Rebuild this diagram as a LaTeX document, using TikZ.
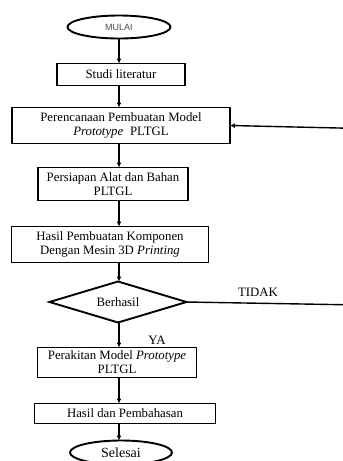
\documentclass[tikz,border=0pt]{standalone}
\usepackage{fontspec}
\setmainfont{Liberation Serif}
\newfontfamily\mulaifont{Liberation Sans}
\usetikzlibrary{arrows.meta,positioning,shapes.geometric}

\begin{document}
\begin{tikzpicture}[x=1pt, y=-1pt, font=\fontsize{12.8}{14}\selectfont, line width=1.9pt]
\tikzstyle{kotak}=[draw, rectangle, align=center, inner sep=1pt, outer sep=0pt]
\tikzstyle{oval}=[draw, ellipse, inner sep=0pt, outer sep=0pt]
\tikzstyle{arr}=[-{Latex[length=5pt,width=5pt]}]
\useasboundingbox (0,0) rectangle (343,461);
\coordinate (spine) at (119,0);
\coordinate (ujung) at (360,0);
\node[oval, minimum width=103pt, minimum height=23pt, font=\mulaifont\fontsize{9}{10}\selectfont, text=black!70] (mulai) at (119,27) {MULAI};
\node[kotak, minimum width=128pt, minimum height=22pt, below=25pt of mulai, xshift=2pt] (studi) {Studi literatur};
\node[kotak, minimum width=218pt, minimum height=36pt, below=22pt of studi] (rencana) {Perencanaan Pembuatan Model\\ \textit{Prototype}\; PLTGL};
\node[kotak, minimum width=150pt, minimum height=33pt, below=24pt of rencana, xshift=-8pt] (siapan) {Persiapan Alat dan Bahan\\ PLTGL};
\node[kotak, minimum width=197pt, minimum height=36pt, below=26pt of siapan, xshift=-3pt] (hasil) {Hasil Pembuatan Komponen\\ Dengan Mesin 3D \textit{Printing}};
\node[draw, diamond, aspect=3.3, inner sep=0pt, outer sep=0pt, minimum width=137pt, minimum height=41pt, below=19pt of hasil, xshift=8pt] (cek) {Berhasil};
\node[kotak, minimum width=159pt, minimum height=30pt, below=25pt of cek, xshift=-1pt] (rakit) {Perakitan Model \textit{Prototype}\\ PLTGL};
\node[kotak, minimum width=181pt, minimum height=20pt, below=26pt of rakit, xshift=8pt] (bahas) {Hasil dan Pembahasan};
\node[oval, minimum width=102pt, minimum height=24pt, font=\fontsize{14}{15}\selectfont, below=17pt of bahas, xshift=-4pt] (selesai) {Selesai};
\node (tidak) at (258,292) {TIDAK};
\node (ya) at (157,340) {YA};
\draw[arr] (mulai.south -| spine) -- (studi.north -| spine);
\draw[arr] (studi.south -| spine) -- (rencana.north -| spine);
\draw[arr] (rencana.south -| spine) -- (siapan.north -| spine);
\draw[arr] (siapan.south -| spine) -- (hasil.north -| spine);
\draw[arr] (hasil.south -| spine) -- (cek.north -| spine);
\draw[arr] (cek.south -| spine) -- (rakit.north -| spine);
\draw[arr] (rakit.south -| spine) -- (bahas.north -| spine);
\draw[arr] (bahas.south -| spine) -- (selesai.north -| spine);
\draw[arr, line width=1.4pt] (cek.east) -- ([yshift=-3pt]cek.east -| ujung) -- ([yshift=-3pt]rencana.east -| ujung) -- (rencana.east);
\end{tikzpicture}
\end{document}
